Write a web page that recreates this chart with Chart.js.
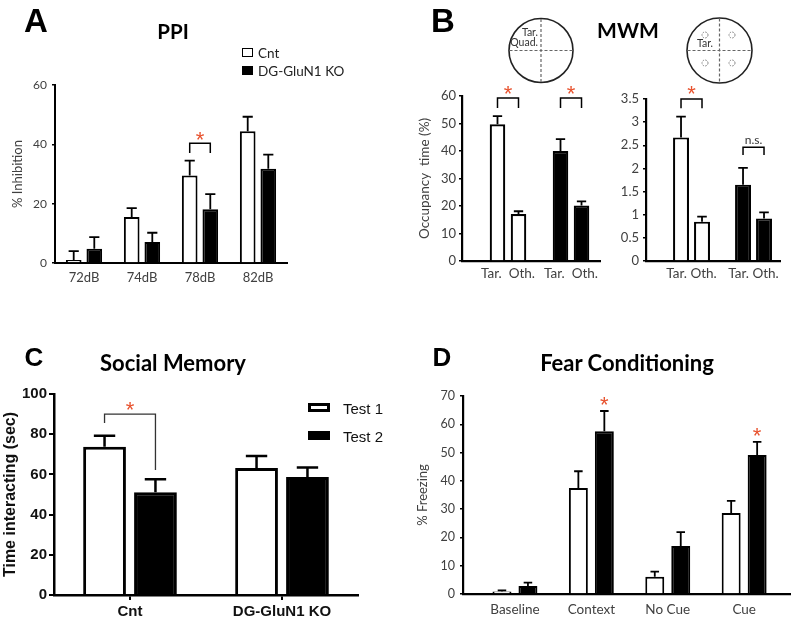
<!DOCTYPE html>
<html><head><meta charset="utf-8">
<script src="https://cdn.jsdelivr.net/npm/chart.js@4.4.1/dist/chart.umd.min.js"></script>
<style>
html,body{margin:0;padding:0;background:#fff;}
#wrap{position:relative;width:800px;height:617px;overflow:hidden;background:#fff;}
canvas{position:absolute;left:0;top:0;}
.t{position:absolute;white-space:nowrap;line-height:1;transform:translate(-50%,-50%);}
.l{position:absolute;white-space:nowrap;line-height:1;transform:translate(0,-50%);}
.box{position:absolute;box-sizing:border-box;}
</style></head><body>
<div id="wrap">
<canvas id="cA" width="800" height="617"></canvas>
<canvas id="cB1" width="800" height="617"></canvas>
<canvas id="cB2" width="800" height="617"></canvas>
<canvas id="cC" width="800" height="617"></canvas>
<canvas id="cD" width="800" height="617"></canvas>

<div class="t" style="left:36px;top:21px;font:bold 33px 'Liberation Sans';">A</div>
<div class="t" style="left:443px;top:21px;font:bold 33px 'Liberation Sans';">B</div>
<div class="t" style="left:34px;top:357px;font:bold 26px 'Liberation Sans';">C</div>
<div class="t" style="left:442px;top:357px;font:bold 26px 'Liberation Sans';">D</div>

<div class="t" style="left:173px;top:31px;font:bold 20.5px Lato;">PPI</div>
<div class="t" style="left:628px;top:29px;font:bold 21px Lato;">MWM</div>
<div class="t" style="left:173px;top:362px;font:bold 22px Lato;">Social Memory</div>
<div class="t" style="left:627px;top:362px;font:bold 22px Lato;">Fear Conditioning</div>

<div class="box" style="left:242px;top:48px;width:11px;height:9px;border:1.6px solid #000;background:#fff;"></div>
<div class="l" style="left:258px;top:53px;font:13.5px Lato;color:#222;">Cnt</div>
<div class="box" style="left:242px;top:66px;width:11px;height:9px;background:#000;"></div>
<div class="l" style="left:258px;top:71px;font:13.5px Lato;color:#222;">DG-GluN1 KO</div>

<div class="box" style="left:308px;top:403px;width:22px;height:9px;border:3px solid #000;background:#fff;"></div>
<div class="l" style="left:343px;top:408px;font:15px 'Liberation Sans';color:#111;">Test 1</div>
<div class="box" style="left:308px;top:431px;width:22px;height:9px;background:#000;"></div>
<div class="l" style="left:343px;top:436px;font:15px 'Liberation Sans';color:#111;">Test 2</div>

<svg width="800" height="617" style="position:absolute;left:0;top:0;pointer-events:none">
  <g fill="none" stroke="#222" stroke-width="1.6">
    <circle cx="541" cy="50.5" r="32"/>
    <circle cx="719.5" cy="50.5" r="32.5"/>
  </g>
  <g stroke="#666" stroke-width="1.2" stroke-dasharray="3,2">
    <line x1="541" y1="19" x2="541" y2="82"/>
    <line x1="509.5" y1="50.5" x2="572.5" y2="50.5"/>
    <line x1="719.5" y1="18.5" x2="719.5" y2="82.5"/>
    <line x1="687.5" y1="50.5" x2="751.5" y2="50.5"/>
  </g>
  <g fill="none" stroke="#777" stroke-width="0.9" stroke-dasharray="1.6,1.2">
    <circle cx="705" cy="35" r="3"/>
    <circle cx="732" cy="35" r="3"/>
    <circle cx="705" cy="63" r="3"/>
    <circle cx="732" cy="63" r="3"/>
  </g>
  <g font-family="Lato" font-size="10.5" fill="#333">
    <text x="538" y="36" text-anchor="end">Tar.</text>
    <text x="538" y="46" text-anchor="end">Quad.</text>
    <text x="705" y="47" text-anchor="middle">Tar.</text>
  </g>
</svg>
</div>
<script>
// ---------------- data ----------------
const ppiLabels = ['72dB', '74dB', '78dB', '82dB'];
const ppiCnt = [1.0, 15.5, 29.5, 44.4];
const ppiCntErr = [3.0, 3.0, 5.0, 4.9];
const ppiKO = [4.8, 7.1, 18.1, 31.8];
const ppiKOErr = [3.9, 3.1, 5.1, 4.7];

const mwmGroupColors = ['#ffffff', '#000000'];
const quadTickLabels = ['Tar.  Oth.', 'Tar.  Oth.'];
const quadTar = [49.7, 40.0];
const quadTarErr = [3.0, 4.3];
const quadOth = [17.1, 20.2];
const quadOthErr = [1.0, 1.5];

const platTickLabels = ['Tar. Oth.', 'Tar. Oth.'];
const platTar = [2.67, 1.65];
const platTarErr = [0.45, 0.36];
const platOth = [0.85, 0.92];
const platOthErr = [0.11, 0.13];

const socialLabels = ['Cnt', 'DG-GluN1 KO'];
const socialTest1 = [73.7, 63.2];
const socialTest1Err = [5.5, 6.0];
const socialTest2 = [51.1, 58.7];
const socialTest2Err = [6.5, 4.7];

const fearLabels = ['Baseline', 'Context', 'No Cue', 'Cue'];
const fearCnt = [0.9, 37.5, 6.1, 28.6];
const fearCntErr = [0.4, 5.9, 1.8, 4.3];
const fearKO = [2.8, 57.5, 17.0, 49.1];
const fearKOErr = [1.2, 7.2, 4.9, 4.7];

// ---------------- helpers ----------------
const RED = '#e8522e';
const W = 800, H = 617;

function makeExtras(cfg) {
  return {
    id: 'extras',
    afterDatasetsDraw(chart) {
      const ctx = chart.ctx;
      const ys = chart.scales.y;
      const barOf = (a) => chart.getDatasetMeta(a[0]).data[a[1]];
      ctx.save();
      chart.data.datasets.forEach((ds, di) => {
        if (!ds.errors) return;
        chart.getDatasetMeta(di).data.forEach((bar, i) => {
          const raw = ds.data[i];
          const val = (typeof raw === 'object') ? raw.y : raw;
          const top = ys.getPixelForValue(val + ds.errors[i]);
          const cw = bar.width * cfg.capRatio;
          ctx.strokeStyle = '#000';
          ctx.lineWidth = cfg.errWidth;
          ctx.beginPath();
          ctx.moveTo(bar.x, bar.y);
          ctx.lineTo(bar.x, top);
          ctx.moveTo(bar.x - cw / 2, top);
          ctx.lineTo(bar.x + cw / 2, top);
          ctx.stroke();
        });
      });
      (cfg.brackets || []).forEach(b => {
        const xa = barOf(b.a).x, xb = barOf(b.b).x;
        const yt = ys.getPixelForValue(b.top);
        ctx.strokeStyle = b.color || '#000';
        ctx.lineWidth = b.width || 1.5;
        ctx.beginPath();
        ctx.moveTo(xa, ys.getPixelForValue(b.legA));
        ctx.lineTo(xa, yt);
        ctx.lineTo(xb, yt);
        ctx.lineTo(xb, ys.getPixelForValue(b.legB));
        ctx.stroke();
        drawMark(ctx, b.text, (xa + xb) / 2, ys.getPixelForValue(b.textY));
      });
      (cfg.stars || []).forEach(s => {
        drawMark(ctx, s.text, barOf(s.at).x, ys.getPixelForValue(s.y));
      });
      ctx.restore();
    }
  };
}
function drawMark(ctx, text, x, y) {
  ctx.textAlign = 'center';
  if (text === '*') {
    ctx.fillStyle = RED;
    ctx.font = '22px "Liberation Sans"';
    ctx.textBaseline = 'alphabetic';
    ctx.fillText('*', x, y + 22 * 0.585);
  } else {
    ctx.fillStyle = '#333';
    ctx.font = '12px Lato';
    ctx.textBaseline = 'middle';
    ctx.fillText(text, x, y);
  }
}

function build(id, o) {
  const area = o.area;
  const xs = Object.assign({}, o.x, {
    afterFit(s) { s.height = o.xH; s.paddingLeft = 0; s.paddingRight = 0; }
  });
  const ysc = Object.assign({}, o.y, {
    afterFit(s) { s.width = o.yW; s.paddingTop = 0; s.paddingBottom = 0; }
  });
  return new Chart(document.getElementById(id), {
    type: 'bar',
    data: o.data,
    options: {
      responsive: false,
      animation: false,
      devicePixelRatio: 1,
      events: [],
      layout: { padding: { left: area.l - o.yW, right: W - area.r, top: area.t, bottom: H - area.b - o.xH } },
      plugins: { legend: { display: false }, tooltip: { enabled: false }, title: { display: false } },
      datasets: { bar: { categoryPercentage: o.cp, barPercentage: o.bp, borderSkipped: 'bottom' } },
      scales: { x: xs, y: ysc }
    },
    plugins: [makeExtras(o.extras)]
  });
}

const calTicks = (size) => ({ color: '#404040', font: { family: 'Lato', size: size } });
const yGrid = (len) => ({ display: true, drawOnChartArea: false, drawTicks: true, tickLength: len, color: '#000', lineWidth: 1.5 });
const xNoGrid = { display: false, drawTicks: false, tickLength: 0 };
const border = (w) => ({ display: true, color: '#000', width: w });
const toPts = (arr) => arr.map((v, i) => ({ x: i, y: v }));
const trimNum = (v) => String(+Number(v).toFixed(2));

// ---------------- A: PPI ----------------
build('cA', {
  area: { l: 55, r: 287, t: 85, b: 263 }, yW: 50, xH: 30,
  cp: 0.71, bp: 0.76,
  data: {
    labels: ppiLabels,
    datasets: [
      { label: 'Cnt', data: ppiCnt, errors: ppiCntErr, backgroundColor: '#fff', borderColor: '#000', borderWidth: 2 },
      { label: 'DG-GluN1 KO', data: ppiKO, errors: ppiKOErr, backgroundColor: '#000', borderColor: '#000', borderWidth: 2 }
    ]
  },
  x: { grid: xNoGrid, border: border(2), ticks: Object.assign(calTicks(13), { padding: 7 }) },
  y: {
    min: 0, max: 60, grid: yGrid(3), border: border(2),
    ticks: Object.assign(calTicks(12), { stepSize: 20, padding: 5 }),
    title: { display: true, text: '% Inhibition', color: '#404040', font: { family: 'Lato', size: 13 }, padding: { top: 5, bottom: 0 } }
  },
  extras: {
    errWidth: 1.8, capRatio: 0.65,
    brackets: [{ a: [0, 2], b: [1, 2], top: 40.4, legA: 37.1, legB: 37.1, text: '*', textY: 43.6 }]
  }
});

// ---------------- B left: quadrant occupancy ----------------
build('cB1', {
  area: { l: 462, r: 600, t: 96, b: 261 }, yW: 45, xH: 26,
  cp: 0.667, bp: 0.74,
  data: {
    datasets: [
      { label: 'Tar.', data: toPts(quadTar), errors: quadTarErr, backgroundColor: mwmGroupColors, borderColor: '#000', borderWidth: 2.2 },
      { label: 'Oth.', data: toPts(quadOth), errors: quadOthErr, backgroundColor: mwmGroupColors, borderColor: '#000', borderWidth: 2.2 }
    ]
  },
  x: {
    type: 'linear', min: -0.73, max: 1.46, offset: false,
    grid: xNoGrid, border: border(2.2),
    ticks: Object.assign(calTicks(13.5), { stepSize: 1, includeBounds: false, autoSkip: false, maxRotation: 0, padding: 5,
      callback: (v) => quadTickLabels[v] !== undefined ? quadTickLabels[v] : '' })
  },
  y: {
    min: 0, max: 60, grid: yGrid(3), border: border(2.2),
    ticks: Object.assign(calTicks(13), { stepSize: 10, padding: 3 }),
    title: { display: true, text: 'Occupancy  time (%)', color: '#404040', font: { family: 'Lato', size: 13.5 }, padding: { top: 0, bottom: 0 } }
  },
  extras: {
    errWidth: 1.8, capRatio: 0.6,
    brackets: [
      { a: [0, 0], b: [1, 0], top: 59.3, legA: 55.6, legB: 55.6, text: '*', textY: 63.0 },
      { a: [0, 1], b: [1, 1], top: 59.3, legA: 55.6, legB: 55.6, text: '*', textY: 63.0 }
    ]
  }
});

// ---------------- B right: platform occupancy ----------------
build('cB2', {
  area: { l: 646, r: 780, t: 99, b: 261 }, yW: 32, xH: 26,
  cp: 0.677, bp: 0.76,
  data: {
    datasets: [
      { label: 'Tar.', data: toPts(platTar), errors: platTarErr, backgroundColor: mwmGroupColors, borderColor: '#000', borderWidth: 2.2 },
      { label: 'Oth.', data: toPts(platOth), errors: platOthErr, backgroundColor: mwmGroupColors, borderColor: '#000', borderWidth: 2.2 }
    ]
  },
  x: {
    type: 'linear', min: -0.734, max: 1.427, offset: false,
    grid: xNoGrid, border: border(2.2),
    ticks: Object.assign(calTicks(13.5), { stepSize: 1, includeBounds: false, autoSkip: false, maxRotation: 0, padding: 5,
      callback: (v) => platTickLabels[v] !== undefined ? platTickLabels[v] : '' })
  },
  y: {
    min: 0, max: 3.5, grid: yGrid(3), border: border(2.2),
    ticks: Object.assign(calTicks(13), { stepSize: 0.5, padding: 4, callback: trimNum })
  },
  extras: {
    errWidth: 1.8, capRatio: 0.6,
    brackets: [
      { a: [0, 0], b: [1, 0], top: 3.5, legA: 3.3, legB: 3.3, text: '*', textY: 3.74 },
      { a: [0, 1], b: [1, 1], top: 2.46, legA: 2.29, legB: 2.29, text: 'n.s.', textY: 2.62 }
    ]
  }
});

// ---------------- C: Social memory ----------------
build('cC', {
  area: { l: 54, r: 358, t: 394, b: 595 }, yW: 54, xH: 22,
  cp: 0.67, bp: 0.84,
  data: {
    labels: socialLabels,
    datasets: [
      { label: 'Test 1', data: socialTest1, errors: socialTest1Err, backgroundColor: '#fff', borderColor: '#000', borderWidth: 3 },
      { label: 'Test 2', data: socialTest2, errors: socialTest2Err, backgroundColor: '#000', borderColor: '#000', borderWidth: 3 }
    ]
  },
  x: {
    grid: { display: true, offset: false, drawOnChartArea: false, drawTicks: true, tickLength: 5, color: '#000', lineWidth: 2 },
    border: border(2.5),
    ticks: { color: '#111', font: { family: 'Liberation Sans', size: 15, weight: 'bold' }, padding: 3 }
  },
  y: {
    min: 0, max: 100, grid: { display: true, drawOnChartArea: false, drawTicks: true, tickLength: 5, color: '#000', lineWidth: 2 },
    border: border(2.5),
    ticks: { stepSize: 20, color: '#111', font: { family: 'Liberation Sans', size: 15, weight: 'bold' }, padding: 2 },
    title: { display: true, text: 'Time interacting (sec)', color: '#111', font: { family: 'Liberation Sans', size: 16, weight: 'bold' }, padding: { top: 1, bottom: 0 } }
  },
  extras: {
    errWidth: 2.5, capRatio: 0.5,
    brackets: [{ a: [0, 0], b: [1, 0], top: 90.0, legA: 85.6, legB: 62.2, text: '*', textY: 95.0, width: 1.3, color: '#333' }]
  }
});

// ---------------- D: Fear conditioning ----------------
build('cD', {
  area: { l: 463, r: 790, t: 396, b: 594 }, yW: 48, xH: 23,
  cp: 0.68, bp: 0.73,
  data: {
    datasets: [
      { label: 'Cnt', data: toPts(fearCnt), errors: fearCntErr, backgroundColor: '#fff', borderColor: '#000', borderWidth: 2 },
      { label: 'DG-GluN1 KO', data: toPts(fearKO), errors: fearKOErr, backgroundColor: '#000', borderColor: '#000', borderWidth: 2 }
    ]
  },
  x: {
    type: 'linear', min: -0.68, max: 3.60, offset: false,
    grid: xNoGrid, border: border(2.2),
    ticks: Object.assign(calTicks(13.5), { stepSize: 1, includeBounds: false, autoSkip: false, maxRotation: 0, padding: 8,
      callback: (v) => fearLabels[v] !== undefined ? fearLabels[v] : '' })
  },
  y: {
    min: 0, max: 70, grid: yGrid(3), border: border(2.2),
    ticks: Object.assign(calTicks(12.5), { stepSize: 10, padding: 5 }),
    title: { display: true, text: '% Freezing', color: '#404040', font: { family: 'Lato', size: 13 }, padding: { top: 0, bottom: 0 } }
  },
  extras: {
    errWidth: 1.8, capRatio: 0.45,
    stars: [
      { at: [1, 1], text: '*', y: 68.9 },
      { at: [1, 3], text: '*', y: 58.0 }
    ]
  }
});
</script>
</body></html>
